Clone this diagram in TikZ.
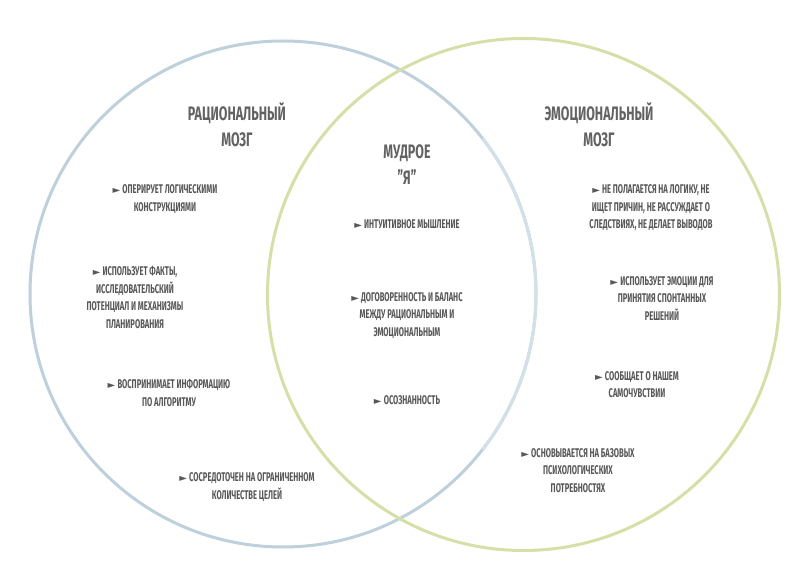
\documentclass[tikz,border=0pt]{standalone}
\usepackage{fontspec}
\setmainfont[FakeStretch=0.64]{Fira Sans}
\newfontfamily\itemfont[FakeStretch=0.6]{Fira Sans}
\newfontfamily\arrowfont{DejaVu Sans}
\definecolor{txt}{HTML}{585858}
\definecolor{ttl}{HTML}{626262}
\definecolor{bluec}{HTML}{BDD0DC}
\definecolor{greenc}{HTML}{D5E0A9}
\newcommand{\tri}{{\arrowfont\fontsize{10}{10}\selectfont ►}\,}
\tikzset{
  item/.style={text=txt, align=center, inner sep=0pt, font=\itemfont\bfseries\fontsize{12.6}{17.6}\selectfont},
  ttlnode/.style={text=ttl, align=center, inner sep=0pt, font=\bfseries\fontsize{19.5}{26}\selectfont},
  ring/.style={line width=3pt}
}
\begin{document}
\begin{tikzpicture}[x=1pt,y=-1pt]
\useasboundingbox (0,0) rectangle (807,583);
\fill[white] (0,0) rectangle (807,583);
\draw[ring, bluec] (283,294) circle[radius=253];
\draw[ring, greenc] (523.5,294.5) circle[radius=256];
\draw[ring, bluec!65] (283,294) ++(-38:253) arc[start angle=-38, end angle=38, radius=253];
% titles
\node[ttlnode] (t1) at (237,125) {РАЦИОНАЛЬНЫЙ\\МОЗГ};
\node[ttlnode] (t2) at (599,125) {ЭМОЦИОНАЛЬНЫЙ\\МОЗГ};
\node[ttlnode] (t3) at (407,165) {МУДРОЕ\\"Я"};
% left
\node[item] (l1) at (165,199) {\tri ОПЕРИРУЕТ ЛОГИЧЕСКИМИ\\КОНСТРУКЦИЯМИ};
\node[item] (l2) at (135,297.5) {\tri ИСПОЛЬЗУЕТ ФАКТЫ,\\ИССЛЕДОВАТЕЛЬСКИЙ\\ПОТЕНЦИАЛ И МЕХАНИЗМЫ\\ПЛАНИРОВАНИЯ};
\node[item] (l3) at (169,393) {\tri ВОСПРИНИМАЕТ ИНФОРМАЦИЮ\\ПО АЛГОРИТМУ};
\node[item] (l4) at (247,487) {\tri СОСРЕДОТОЧЕН НА ОГРАНИЧЕННОМ\\КОЛИЧЕСТВЕ ЦЕЛЕЙ};
% middle
\node[item] (m1) at (407,224) {\tri ИНТУИТИВНОЕ МЫШЛЕНИЕ};
\node[item] (m2) at (407,315.5) {\tri ДОГОВОРЕННОСТЬ И БАЛАНС\\МЕЖДУ РАЦИОНАЛЬНЫМ И\\ЭМОЦИОНАЛЬНЫМ};
\node[item] (m3) at (407,400) {\tri ОСОЗНАННОСТЬ};
% right
\node[item] (r1) at (651,208) {\tri НЕ ПОЛАГАЕТСЯ НА ЛОГИКУ, НЕ\\ИЩЕТ ПРИЧИН, НЕ РАССУЖДАЕТ О\\СЛЕДСТВИЯХ, НЕ ДЕЛАЕТ ВЫВОДОВ};
\node[item] (r2) at (662,298.5) {\tri ИСПОЛЬЗУЕТ ЭМОЦИИ ДЛЯ\\ПРИНЯТИЯ СПОНТАННЫХ\\РЕШЕНИЙ};
\node[item] (r3) at (637,384.5) {\tri СООБЩАЕТ О НАШЕМ\\САМОЧУВСТВИИ};
\node[item] (r4) at (578,470.5) {\tri ОСНОВЫВАЕТСЯ НА БАЗОВЫХ\\ПСИХОЛОГИЧЕСКИХ\\ПОТРЕБНОСТЯХ};
\end{tikzpicture}
\end{document}
